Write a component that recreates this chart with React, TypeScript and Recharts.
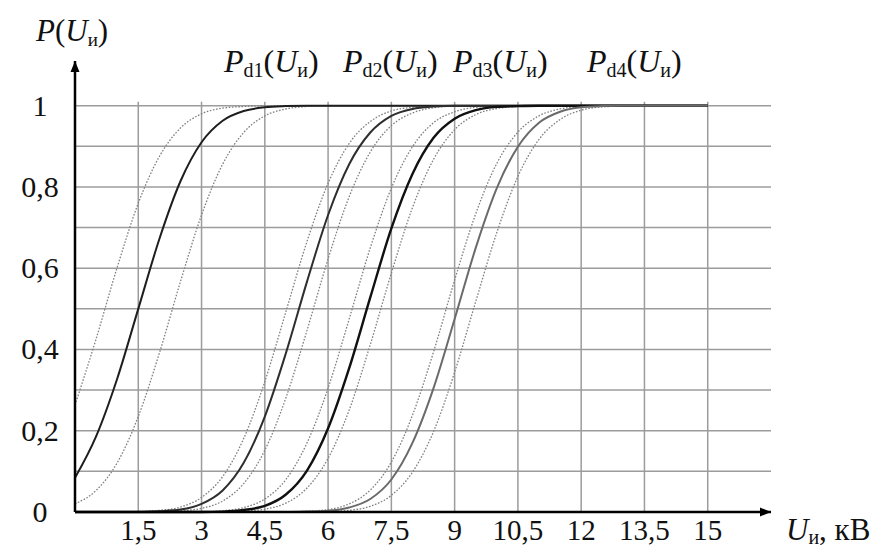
import { LineChart, Line, XAxis, YAxis, ReferenceLine, ReferenceDot } from 'recharts';

// U, kV sample points
const uValues = [0, 0.5, 1, 1.5, 2, 2.5, 3, 3.5, 4, 4.5, 5, 5.5, 6, 6.5, 7, 7.5, 8, 8.5, 9, 9.5, 10, 10.5, 11, 11.5, 12, 12.5, 13, 13.5, 14, 14.5, 15];

// Pd1
const pd1Lo = [0.263, 0.426, 0.602, 0.76, 0.875, 0.945, 0.98, 0.994, 0.998, 1, 1, 1, 1, 1, 1, 1, 1, 1, 1, 1, 1, 1, 1, 1, 1, 1, 1, 1, 1, 1, 1];
const pd1 = [0.084, 0.186, 0.328, 0.5, 0.672, 0.814, 0.91, 0.963, 0.987, 0.996, 0.999, 1, 1, 1, 1, 1, 1, 1, 1, 1, 1, 1, 1, 1, 1, 1, 1, 1, 1, 1, 1];
const pd1Hi = [0.02, 0.053, 0.121, 0.235, 0.391, 0.567, 0.731, 0.856, 0.934, 0.975, 0.992, 0.998, 1, 1, 1, 1, 1, 1, 1, 1, 1, 1, 1, 1, 1, 1, 1, 1, 1, 1, 1];

// Pd2
const pd2Lo = [0, 0, 0, 0.001, 0.004, 0.012, 0.036, 0.087, 0.181, 0.321, 0.493, 0.666, 0.809, 0.907, 0.961, 0.987, 0.996, 0.999, 1, 1, 1, 1, 1, 1, 1, 1, 1, 1, 1, 1, 1];
const pd2 = [0, 0, 0, 0, 0.002, 0.006, 0.02, 0.053, 0.121, 0.235, 0.391, 0.567, 0.731, 0.856, 0.934, 0.975, 0.992, 0.998, 1, 1, 1, 1, 1, 1, 1, 1, 1, 1, 1, 1, 1];
const pd2Hi = [0, 0, 0, 0, 0, 0.003, 0.009, 0.027, 0.07, 0.152, 0.281, 0.447, 0.623, 0.776, 0.886, 0.951, 0.982, 0.995, 0.999, 1, 1, 1, 1, 1, 1, 1, 1, 1, 1, 1, 1];

// Pd3
const pd3Lo = [0, 0, 0, 0, 0, 0, 0, 0.003, 0.011, 0.032, 0.08, 0.17, 0.305, 0.475, 0.65, 0.797, 0.899, 0.958, 0.985, 0.996, 0.999, 1, 1, 1, 1, 1, 1, 1, 1, 1, 1];
const pd3 = [0, 0, 0, 0, 0, 0, 0, 0.001, 0.005, 0.015, 0.043, 0.102, 0.206, 0.354, 0.528, 0.698, 0.832, 0.921, 0.968, 0.989, 0.997, 0.999, 1, 1, 1, 1, 1, 1, 1, 1, 1];
const pd3Hi = [0, 0, 0, 0, 0, 0, 0, 0, 0.002, 0.007, 0.022, 0.059, 0.132, 0.251, 0.412, 0.588, 0.749, 0.868, 0.941, 0.978, 0.993, 0.998, 1, 1, 1, 1, 1, 1, 1, 1, 1];

// Pd4
const pd4Lo = [0, 0, 0, 0, 0, 0, 0, 0, 0, 0, 0, 0.002, 0.006, 0.02, 0.054, 0.123, 0.238, 0.394, 0.571, 0.734, 0.858, 0.935, 0.975, 0.992, 0.998, 1, 1, 1, 1, 1, 1];
const pd4 = [0, 0, 0, 0, 0, 0, 0, 0, 0, 0, 0, 0.001, 0.003, 0.011, 0.032, 0.08, 0.17, 0.305, 0.475, 0.65, 0.797, 0.899, 0.958, 0.985, 0.996, 0.999, 1, 1, 1, 1, 1];
const pd4Hi = [0, 0, 0, 0, 0, 0, 0, 0, 0, 0, 0, 0, 0.001, 0.004, 0.014, 0.041, 0.098, 0.198, 0.344, 0.518, 0.688, 0.826, 0.917, 0.966, 0.989, 0.997, 0.999, 1, 1, 1, 1];

const xTicks = [1.5, 3, 4.5, 6, 7.5, 9, 10.5, 12, 13.5, 15];
const yTicks = [0, 0.2, 0.4, 0.6, 0.8, 1];
const yGrid = [0.1, 0.2, 0.3, 0.4, 0.5, 0.6, 0.7, 0.8, 0.9, 1];
const curveNames = ['d1', 'd2', 'd3', 'd4'];

const rows = uValues.map((u, i) => ({
  u,
  pd1Lo: pd1Lo[i], pd1: pd1[i], pd1Hi: pd1Hi[i],
  pd2Lo: pd2Lo[i], pd2: pd2[i], pd2Hi: pd2Hi[i],
  pd3Lo: pd3Lo[i], pd3: pd3[i], pd3Hi: pd3Hi[i],
  pd4Lo: pd4Lo[i], pd4: pd4[i], pd4Hi: pd4Hi[i],
}));

const dotted = { stroke: '#808080', strokeWidth: 1.3, strokeDasharray: '1.6 1.6' };
const lines = [
  { key: 'pd1Lo', ...dotted }, { key: 'pd1Hi', ...dotted },
  { key: 'pd2Lo', ...dotted }, { key: 'pd2Hi', ...dotted },
  { key: 'pd3Lo', ...dotted }, { key: 'pd3Hi', ...dotted },
  { key: 'pd4Lo', ...dotted }, { key: 'pd4Hi', ...dotted },
  { key: 'pd1', stroke: '#1e1e1e', strokeWidth: 2, strokeDasharray: undefined },
  { key: 'pd2', stroke: '#2e2e2e', strokeWidth: 2, strokeDasharray: undefined },
  { key: 'pd3', stroke: '#111111', strokeWidth: 2.4, strokeDasharray: undefined },
  { key: 'pd4', stroke: '#6a6a6a', strokeWidth: 2, strokeDasharray: undefined },
];

const FONT = "'Liberation Serif', 'Times New Roman', serif";
const labelLeft = [224, 343, 453, 587];

const comma = (v: number) => String(v).replace('.', ',');

function XTick({ x, payload }: any) {
  return (
    <text x={x} y={540} textAnchor="middle" fontFamily={FONT} fontSize={29} fill="#111">
      {comma(payload.value)}
    </text>
  );
}

function YTick({ y, payload }: any) {
  return (
    <text x={40} y={y + 10} textAnchor="middle" fontFamily={FONT} fontSize={30} fill="#111">
      {comma(payload.value)}
    </text>
  );
}

const arrowRight = (p: any) => (
  <polygon points={`${p.cx},${p.cy} ${p.cx - 11},${p.cy - 4.5} ${p.cx - 11},${p.cy + 4.5}`} fill="#000" />
);
const arrowUp = (p: any) => (
  <polygon points={`${p.cx},${p.cy} ${p.cx - 4.5},${p.cy + 11} ${p.cx + 4.5},${p.cy + 11}`} fill="#000" />
);

export default function App() {
  return (
    <div style={{ position: 'absolute', left: 0, top: 0, width: 881, height: 547, background: '#fff' }}>
      <LineChart width={881} height={547} data={rows} margin={{ top: 61, right: 110, bottom: 5, left: 15 }}>
        {yGrid.map((v) => (
          <ReferenceLine key={'h' + v} y={v} stroke="#9c9c9c" strokeWidth={1.5} />
        ))}
        {xTicks.map((v) => (
          <ReferenceLine key={'v' + v} segment={[{ x: v, y: 0 }, { x: v, y: 1.01 }]} stroke="#9c9c9c" strokeWidth={1.5} />
        ))}
        <XAxis
          type="number"
          dataKey="u"
          domain={[0, 16.5]}
          ticks={xTicks}
          height={30}
          tickLine={false}
          axisLine={{ stroke: '#000', strokeWidth: 2.5 }}
          tick={<XTick />}
          interval={0}
        />
        <YAxis
          type="number"
          domain={[0, 1.11]}
          ticks={yTicks}
          width={60}
          tickLine={false}
          axisLine={{ stroke: '#000', strokeWidth: 2.5 }}
          tick={<YTick />}
          interval={0}
        />
        {lines.map((l) => (
          <Line
            key={l.key}
            type="monotone"
            dataKey={l.key}
            stroke={l.stroke}
            strokeWidth={l.strokeWidth}
            strokeDasharray={l.strokeDasharray}
            dot={false}
            activeDot={false}
            isAnimationActive={false}
          />
        ))}
        <ReferenceDot x={16.5} y={0} r={0} ifOverflow="visible" shape={arrowRight} />
        <ReferenceDot x={0} y={1.11} r={0} ifOverflow="visible" shape={arrowUp} />
      </LineChart>
      <svg
        width={881}
        height={547}
        style={{ position: 'absolute', left: 0, top: 0, pointerEvents: 'none' }}
        fontFamily={FONT}
        fill="#111"
      >
        <text x={36} y={41} fontSize={31}>
          <tspan fontStyle="italic">P</tspan>(<tspan fontStyle="italic">U</tspan>
          <tspan fontSize={19} dy={5}>и</tspan>
          <tspan dy={-5}>)</tspan>
        </text>
        {curveNames.map((n, i) => (
          <text key={n} x={labelLeft[i]} y={72} fontSize={32}>
            <tspan fontStyle="italic">P</tspan>
            <tspan fontSize={20} dy={5}>{n}</tspan>
            <tspan dy={-5}>(</tspan>
            <tspan fontStyle="italic">U</tspan>
            <tspan fontSize={20} dy={5}>и</tspan>
            <tspan dy={-5}>)</tspan>
          </text>
        ))}
        <text x={786} y={540} fontSize={31}>
          <tspan fontStyle="italic">U</tspan>
          <tspan fontSize={20} dy={4}>и</tspan>
          <tspan dy={-4}>, кВ</tspan>
        </text>
      </svg>
    </div>
  );
}
